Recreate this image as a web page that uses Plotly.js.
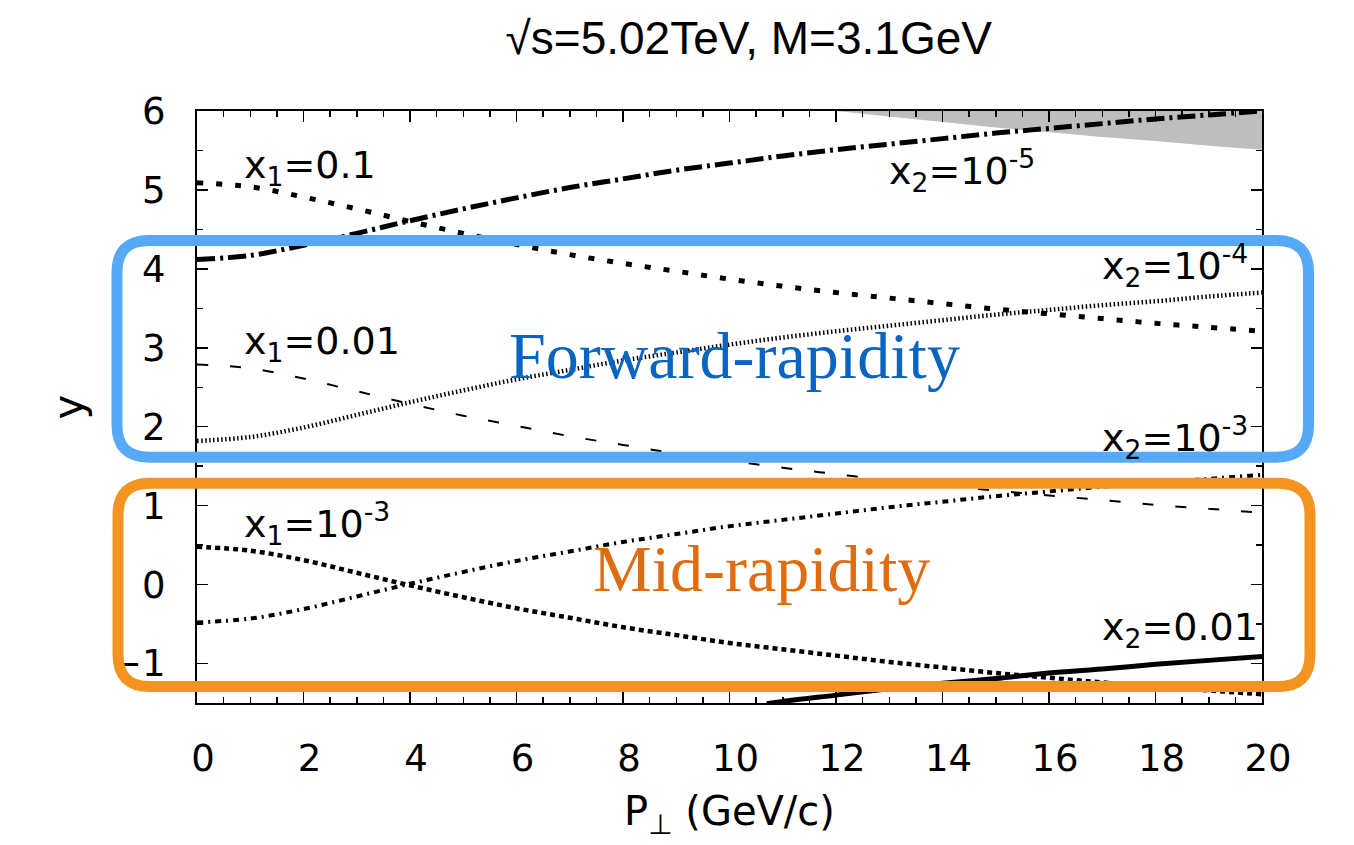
<!DOCTYPE html>
<html>
<head>
<meta charset="utf-8">
<script src="https://cdn.plot.ly/plotly-3.0.1.min.js"></script>
<style>html,body{margin:0;padding:0;background:#fff;}#chart{width:1354px;height:845px;}</style>
</head>
<body>
<div id="chart"></div>
<script>
// transverse momentum samples (GeV/c)
var pt = [0,1,2,3,4,5,6,7,8,9,10,11,12,13,14,15,16,17,18,19,20];
// rapidity curves
var y_x1_1e1 = [5.09,5.04,4.91,4.76,4.60,4.45,4.31,4.18,4.07,3.97,3.87,3.78,3.70,3.63,3.56,3.49,3.43,3.37,3.31,3.26,3.21];
var y_x1_1e2 = [2.79,2.74,2.61,2.45,2.29,2.14,2.01,1.88,1.77,1.66,1.57,1.48,1.40,1.32,1.25,1.19,1.13,1.07,1.01,0.96,0.91];
var y_x1_1e3 = [0.48,0.43,0.31,0.15,-0.01,-0.16,-0.30,-0.42,-0.54,-0.64,-0.74,-0.82,-0.90,-0.98,-1.05,-1.12,-1.18,-1.24,-1.29,-1.34,-1.39];
var y_x2_1e5 = [4.12,4.17,4.30,4.45,4.61,4.76,4.90,5.03,5.14,5.25,5.34,5.43,5.51,5.58,5.65,5.72,5.78,5.84,5.90,5.95,6.00];
var y_x2_1e4 = [1.82,1.87,1.99,2.15,2.31,2.46,2.60,2.72,2.84,2.94,3.04,3.13,3.21,3.28,3.35,3.42,3.48,3.54,3.59,3.65,3.70];
var y_x2_1e3 = [-0.48,-0.43,-0.31,-0.15,0.01,0.16,0.30,0.42,0.54,0.64,0.74,0.82,0.90,0.98,1.05,1.12,1.18,1.24,1.29,1.34,1.39];
var pt_x2_1e2 = [10.7,11,12,13,14,15,16,17,18,19,20];
var y_x2_1e2 = [-1.51,-1.48,-1.40,-1.32,-1.25,-1.19,-1.12,-1.07,-1.01,-0.96,-0.91];
// kinematically forbidden (grey) region
var pt_limit = [12,13,14,15,16,17,18,19,20,20,12];
var y_limit = [6.00,5.93,5.86,5.79,5.73,5.67,5.62,5.56,5.51,6.00,6.00];

// labels
var curveLabels = [
  {t:'x<sub>1</sub>=0.1', x:0.85, y:5.28},
  {t:'x<sub>1</sub>=0.01', x:0.85, y:3.05},
  {t:'x<sub>1</sub>=10<sup>-3</sup>', x:0.85, y:0.78},
  {t:'x<sub>2</sub>=10<sup>-5</sup>', x:12.95, y:5.25},
  {t:'x<sub>2</sub>=10<sup>-4</sup>', x:16.95, y:4.04},
  {t:'x<sub>2</sub>=10<sup>-3</sup>', x:16.95, y:1.86},
  {t:'x<sub>2</sub>=0.01', x:16.95, y:-0.57}
];

var blk = '#000000';
var traces = [
  {x:pt_limit, y:y_limit, mode:'lines', fill:'toself', fillcolor:'#BEBEBE', line:{width:0, color:'#BEBEBE'}, hoverinfo:'skip'},
  {x:pt, y:y_x1_1e1, mode:'lines', line:{color:blk, width:5, dash:'6px,13px', shape:'spline'}},
  {x:pt, y:y_x1_1e2, mode:'lines', line:{color:blk, width:2, dash:'11px,22px', shape:'spline'}},
  {x:pt, y:y_x1_1e3, mode:'lines', line:{color:blk, width:4.5, dash:'5px,4px', shape:'spline'}},
  {x:pt, y:y_x2_1e5, mode:'lines', line:{color:blk, width:5, dash:'18px,5px,3px,5px', shape:'spline'}},
  {x:pt, y:y_x2_1e4, mode:'lines', line:{color:blk, width:4.5, dash:'1.5px,2.5px', shape:'spline'}},
  {x:pt, y:y_x2_1e3, mode:'lines', line:{color:blk, width:4, dash:'6px,5px,2px,5px', shape:'spline'}},
  {x:pt_x2_1e2, y:y_x2_1e2, mode:'lines', line:{color:blk, width:5, shape:'spline'}}
];

// plot-area geometry in pixels (for the rounded boxes)
var PL = 197, PW = 1065, PT = 111, PH = 592.5;
function P(px, py){ return ((px-PL)/PW).toFixed(5) + ',' + ((PT+PH-py)/PH).toFixed(5); }
function roundRect(l, t, r, b, rad){
  return 'M' + P(l+rad,t) + ' L' + P(r-rad,t) + ' Q' + P(r,t) + ' ' + P(r,t+rad) +
         ' L' + P(r,b-rad) + ' Q' + P(r,b) + ' ' + P(r-rad,b) +
         ' L' + P(l+rad,b) + ' Q' + P(l,b) + ' ' + P(l,b-rad) +
         ' L' + P(l,t+rad) + ' Q' + P(l,t) + ' ' + P(l+rad,t) + ' Z';
}

var annots = curveLabels.map(function(a){
  return {text:a.t, x:a.x, y:a.y, xref:'x', yref:'y', xanchor:'left', yanchor:'middle', showarrow:false,
          font:{family:'DejaVu Sans, sans-serif', size:38, color:'#000'}};
});
annots.push({text:'Forward-rapidity', x:10.1, y:2.9, xref:'x', yref:'y', xanchor:'center', yanchor:'middle', showarrow:false,
             font:{family:'Liberation Serif, Times New Roman, serif', size:66, color:'#0A64C2'}});
annots.push({text:'Mid-rapidity', x:10.6, y:0.2, xref:'x', yref:'y', xanchor:'center', yanchor:'middle', showarrow:false,
             font:{family:'Liberation Serif, Times New Roman, serif', size:66, color:'#E06C10'}});

var axisCommon = {
  showgrid:false, zeroline:false, showline:true, linecolor:'#000', linewidth:2, mirror:'ticks',
  ticks:'inside', ticklen:11, tickwidth:1.5, tickcolor:'#000',
  tickfont:{family:'DejaVu Sans, sans-serif', size:37, color:'#000'}
};

var layout = {
  width:1354, height:845,
  margin:{l:197, r:92, t:111, b:141.5, pad:0},
  paper_bgcolor:'#fff', plot_bgcolor:'#fff',
  showlegend:false,
  title:{text:'\u221As=5.02TeV, M=3.1GeV', x:0.553, xanchor:'center', y:0.955, yanchor:'middle',
         font:{family:'Liberation Sans, Arial, sans-serif', size:46, color:'#000'}},
  xaxis:Object.assign({}, axisCommon, {
    range:[0,20], tickmode:'linear', tick0:0, dtick:2, ticklabelstandoff:22, ticklabelshift:6,
    minor:{dtick:0.5, ticklen:6, tickwidth:1.5, tickcolor:'#000', ticks:'inside'},
    title:{text:'P<sub>\u22A5</sub> (GeV/c)', standoff:18, font:{family:'DejaVu Sans, sans-serif', size:40, color:'#000'}}
  }),
  yaxis:Object.assign({}, axisCommon, {
    range:[-1.5,6], tickmode:'linear', tick0:0, dtick:1, ticklabelstandoff:22,
    minor:{dtick:0.5, ticklen:6, tickwidth:1.5, tickcolor:'#000', ticks:'inside'},
    title:{text:'y', standoff:14, font:{family:'DejaVu Sans, sans-serif', size:42, color:'#000'}}
  }),
  shapes:[
    {type:'path', xref:'paper', yref:'paper', layer:'above', path:roundRect(117,240.5,1308.5,457.5,32),
     line:{color:'#55A9F6', width:11}},
    {type:'path', xref:'paper', yref:'paper', layer:'above', path:roundRect(118,483.5,1310,687,32),
     line:{color:'#F39320', width:11}}
  ],
  annotations:annots
};

Plotly.newPlot('chart', traces, layout, {staticPlot:true, displayModeBar:false});
</script>
</body>
</html>
